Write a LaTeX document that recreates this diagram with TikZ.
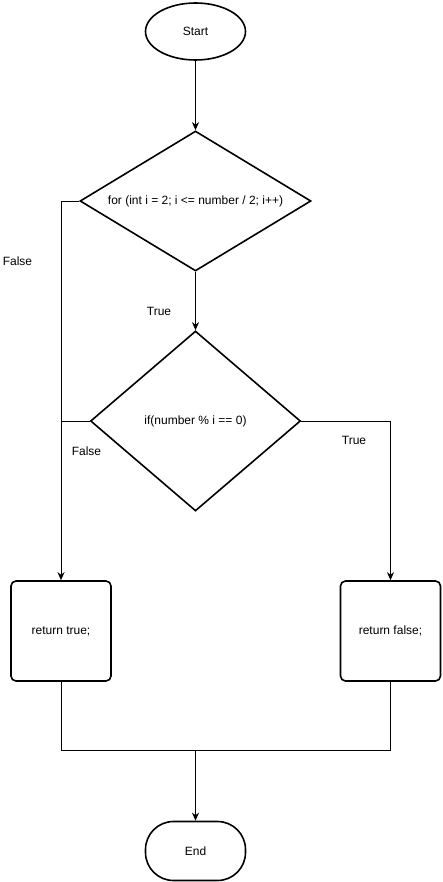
\documentclass[tikz,border=0pt]{standalone}
\usepackage{fontspec}
\setmainfont{Liberation Sans}
\usetikzlibrary{shapes.geometric,arrows.meta}
\begin{document}
\begin{tikzpicture}[x=1pt,y=-1pt,
  every node/.style={font=\fontsize{12}{14}\selectfont, inner sep=0pt},
  shp/.style={draw, line width=1.6pt},
  dia/.style={shp, shape=diamond, minimum width=#1},
  procbox/.style={shp, rectangle, rounded corners=5pt, minimum width=100pt, minimum height=100pt},
  conn/.style={line width=0.9pt},
  arr/.style={conn, -{Stealth[length=8pt,width=7pt,inset=2.5pt]}},
  lbl/.style={anchor=center}
]
\useasboundingbox (0,0) rectangle (442,882);
\node[shp, ellipse, minimum width=100pt, minimum height=57pt] (start) at (195.5,31.5) {Start};
\node[dia=231pt, minimum height=140pt, label={center:for (int i = 2; i <= number / 2; i++)}] (d1) at (195.5,201) {};
\node[dia=210pt, minimum height=180pt, label={center:if(number \% i == 0)}] (d2) at (195.5,421) {};
\node[procbox] (rt) at (61,631) {return true;};
\node[procbox] (rf) at (390.5,631) {return false;};
\node[shp, rectangle, rounded corners=28pt, minimum width=100pt, minimum height=59pt] (end) at (195.5,851) {End};

\coordinate (j) at (195.5,750.5);

\draw[arr] (start.south) -- (d1.north);
\draw[arr] (d1.south) -- (d2.north);
\draw[arr] (d1.west) -| (rt.north);
\draw[conn] (d2.west) -- (rt.north |- d2.west);
\draw[arr] (d2.east) -| (rf.north);
\draw[conn] (rt.south) |- (j) -| (rf.south);
\draw[arr] (j) -- (end.north);

\node[lbl] (lf1) at (17.5,261) {False};
\node[lbl] (lt1) at (159,311) {True};
\node[lbl] (lf2) at (86.5,451) {False};
\node[lbl] (lt2) at (354,440) {True};
\end{tikzpicture}
\end{document}
